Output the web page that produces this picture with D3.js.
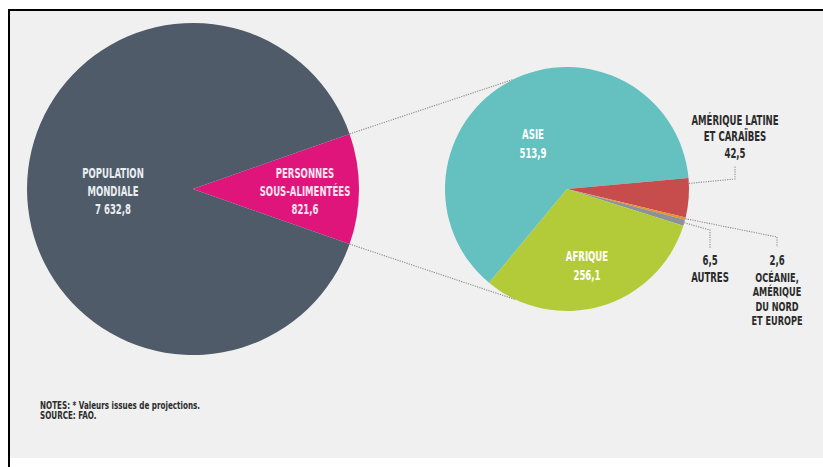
<!DOCTYPE html>
<html><head><meta charset="utf-8">
<script src="https://cdn.jsdelivr.net/npm/d3@7"></script>
<style>
html,body{margin:0;padding:0;background:#fff;}
text{font-family:"DejaVu Sans Condensed","Liberation Sans Narrow","DejaVu Sans",sans-serif;font-weight:bold;}
</style></head>
<body><svg id="c" width="823" height="467"></svg>
<script>
// ---- data ----
const worldLabel = ["POPULATION", "MONDIALE"];
const worldPopulation = 7632.8;
const underLabel = ["PERSONNES", "SOUS-ALIMENTÉES"];
const undernourished = 821.6;
const regions = ["ASIE", "AMÉRIQUE LATINE ET CARAÏBES", "OCÉANIE, AMÉRIQUE DU NORD ET EUROPE", "AUTRES", "AFRIQUE"];
const regionValues = [513.9, 42.5, 2.6, 6.5, 256.1];
const regionColors = ["#64c1c0", "#c64d4c", "#ee8e2c", "#8d9297", "#b3cb38"];
const notes = ["NOTES: * Valeurs issues de projections.", "SOURCE: FAO."];

const fmt = v => d3.format(",.1f")(v).replace(/,/g, " ").replace(".", ",");

const svg = d3.select("#c");
// background & frame
svg.append("rect").attr("x", 9).attr("y", 10).attr("width", 814).attr("height", 448).attr("fill", "#f0f0f0");
svg.append("line").attr("x1", 9).attr("x2", 9).attr("y1", 9).attr("y2", 467).attr("stroke", "#000").attr("stroke-width", 2);
svg.append("line").attr("x1", 8).attr("x2", 823).attr("y1", 10).attr("y2", 10).attr("stroke", "#000").attr("stroke-width", 2);

// ---- big pie ----
const C1 = {x: 193, y: 189, r: 166};
const pinkSpan = 2 * Math.PI * undernourished / worldPopulation;
const pie1 = d3.pie().sort(null).value(d => d.v)
  .startAngle(Math.PI / 2 - pinkSpan / 2).endAngle(Math.PI / 2 - pinkSpan / 2 + 2 * Math.PI);
const big = pie1([{k: "under", v: undernourished}, {k: "rest", v: worldPopulation - undernourished}]);
const arc1 = d3.arc().innerRadius(0).outerRadius(C1.r);
const g1 = svg.append("g").attr("transform", `translate(${C1.x},${C1.y})`);
g1.selectAll("path").data(big).join("path").attr("d", arc1)
  .attr("fill", d => d.data.k === "under" ? "#e0157b" : "#4f5b69");

function block(x, y, lines, fill, size, lh, sx = 0.68, anchor = "middle") {
  const g = svg.append("g").attr("transform", `translate(${x},${y}) scale(${sx},1)`);
  const t = g.append("text").attr("text-anchor", anchor).attr("fill", fill).attr("font-size", size);
  lines.forEach((l, i) => t.append("tspan").attr("x", 0).attr("y", i * lh).text(l));
}
block(113, 178, [...worldLabel, fmt(worldPopulation)], "#e9eef1", 14, 18);
block(305, 178, [...underLabel, fmt(undernourished)], "#fbe4ef", 14, 18);

// ---- small pie ----
const C2 = {x: 567, y: 189, r: 122};
const start2 = -140.3 * Math.PI / 180;
const pie2 = d3.pie().sort(null).startAngle(start2).endAngle(start2 + 2 * Math.PI);
const small = pie2(regionValues);
const arc2 = d3.arc().innerRadius(0).outerRadius(C2.r);
const g2 = svg.append("g").attr("transform", `translate(${C2.x},${C2.y})`);
g2.selectAll("path").data(small).join("path").attr("d", arc2).attr("fill", (d, i) => regionColors[i]);

const onCircle = (c, a, r = c.r) => [c.x + r * Math.sin(a), c.y - r * Math.cos(a)];
const deg = Math.PI / 180;

// connectors between pies
const pinkA = big[0];
const dotted = (pts) => svg.append("path").attr("d", d3.line()(pts)).attr("fill", "none")
  .attr("stroke", "#8a8a8a").attr("stroke-width", 1.1).attr("stroke-dasharray", "1.2,1.2");
dotted([onCircle(C1, pinkA.startAngle), onCircle(C2, -26 * deg)]);
dotted([onCircle(C1, pinkA.endAngle), onCircle(C2, 205 * deg)]);

// leaders
dotted([onCircle(C2, small[1].startAngle + 2.5 * deg), [735, 179], [735, 166]]);
dotted([onCircle(C2, (small[2].startAngle + small[2].endAngle) / 2), [777, 237], [777, 247]]);
dotted([onCircle(C2, (small[3].startAngle + small[3].endAngle) / 2), [710, 230], [710, 248]]);

// labels
block(533, 139, [regions[0], fmt(regionValues[0])], "#ffffff", 14, 19);
block(587, 261, [regions[4], fmt(regionValues[4])], "#ffffff", 14, 19);
block(735, 125, ["AMÉRIQUE LATINE", "ET CARAÏBES", fmt(regionValues[1])], "#2b2b2b", 14, 16.5);
block(710, 265, [fmt(regionValues[3]), regions[3]], "#2b2b2b", 14, 17);
block(777, 265, [fmt(regionValues[2])], "#2b2b2b", 14, 17);
block(777, 282, ["OCÉANIE,", "AMÉRIQUE", "DU NORD", "ET EUROPE"], "#2b2b2b", 12, 14.5, 0.76);

// notes
block(40, 409, notes, "#2b2b2b", 10, 10.5, 0.8, "start");
</script></body></html>
